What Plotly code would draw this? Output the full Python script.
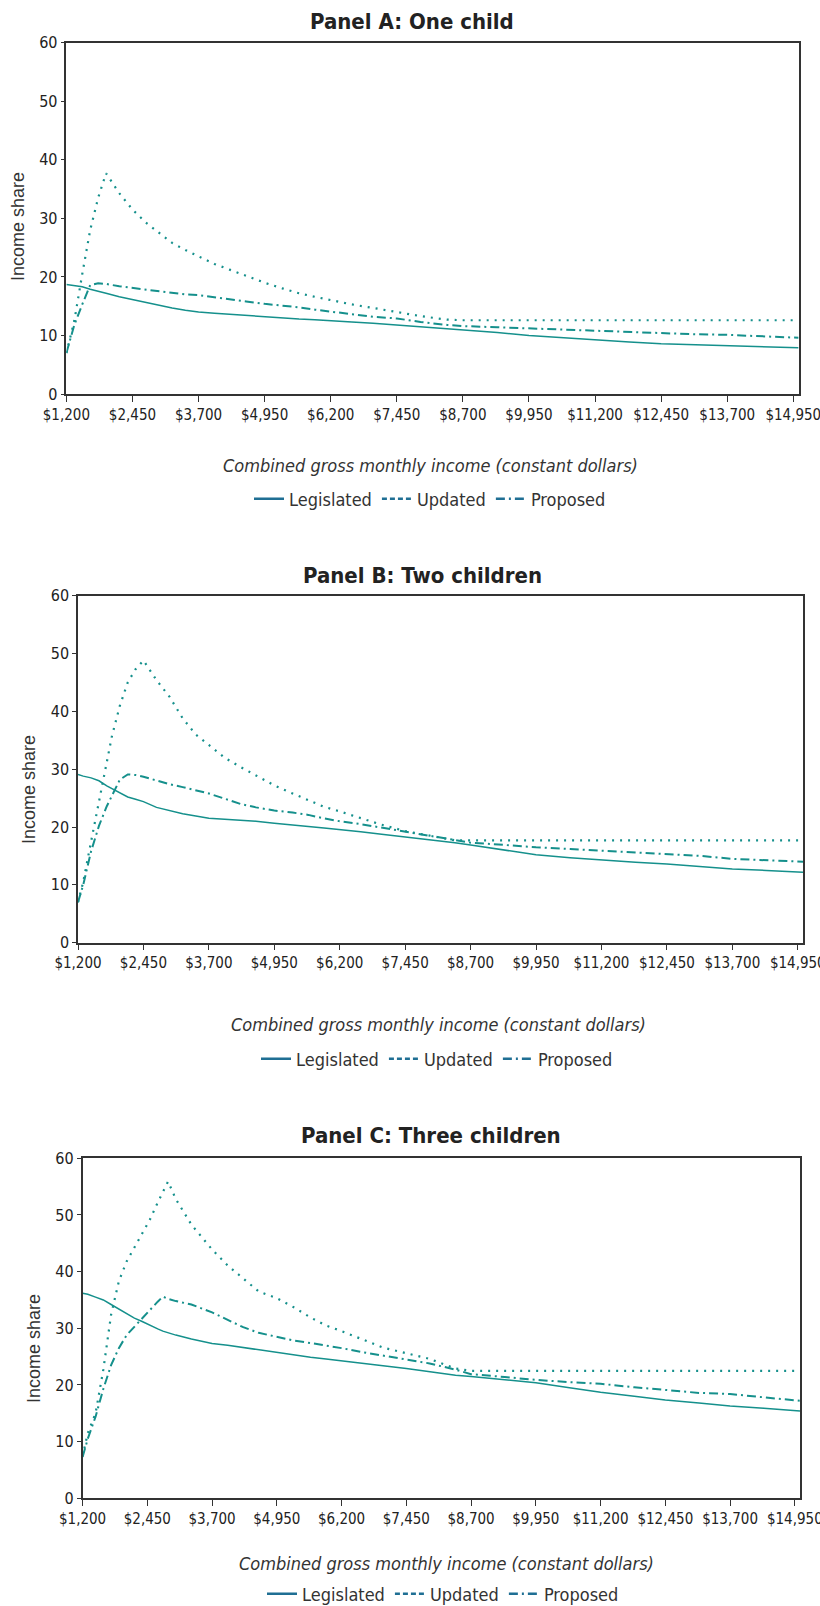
import plotly.graph_objects as go

# ---------------- data ----------------
x_tick_values = [1200, 2450, 3700, 4950, 6200, 7450, 8700, 9950, 11200, 12450, 13700, 14950]
x_tick_labels = ["$1,200", "$2,450", "$3,700", "$4,950", "$6,200", "$7,450", "$8,700",
                 "$9,950", "$11,200", "$12,450", "$13,700", "$14,950"]
y_tick_values = [0, 10, 20, 30, 40, 50, 60]
series_names = ["Legislated", "Updated", "Proposed"]
panel_titles = ["Panel A: One child", "Panel B: Two children", "Panel C: Three children"]
x_title = "Combined gross monthly income (constant dollars)"
y_title = "Income share"

# Panel A: one child
income_a = [1200, 1350, 1500, 1650, 1800, 1950, 2200, 2450, 2700, 2950, 3200, 3450, 3700,
            4000, 4300, 4600, 4950, 5300, 5600, 5900, 6200, 6600, 7000, 7450, 7900, 8400,
            8700, 9350, 9950, 10600, 11200, 11850, 12450, 13100, 13700, 14350, 15050]
legislated_a = [18.7, 18.5, 18.3, 17.9, 17.5, 17.2, 16.6, 16.1, 15.6, 15.2, 14.7, 14.3, 14.0,
                13.8, 13.6, 13.4, 13.2, 13.0, 12.8, 12.7, 12.5, 12.3, 12.1, 11.8, 11.5, 11.2,
                11.05, 10.5, 10.0, 9.6, 9.2, 8.9, 8.6, 8.4, 8.2, 8.0, 7.9]
updated_a = [7.0, 12.5, 20.5, 28.0, 33.5, 37.7, 34.3, 31.5, 29.3, 27.5, 25.8, 24.6, 23.5,
             22.2, 21.2, 20.2, 19.0, 18.0, 17.2, 16.6, 16.0, 15.3, 14.7, 14.0, 13.3, 12.7,
             12.6, 12.6, 12.6, 12.6, 12.6, 12.6, 12.6, 12.6, 12.6, 12.6, 12.6]
proposed_a = [7.0, 11.8, 15.3, 18.6, 18.9, 18.8, 18.4, 18.1, 17.9, 17.6, 17.2, 17.0, 16.9,
              16.5, 16.1, 15.8, 15.4, 15.1, 14.8, 14.4, 14.1, 13.6, 13.2, 12.9, 12.3, 11.8,
              11.6, 11.4, 11.2, 11.0, 10.8, 10.6, 10.4, 10.2, 10.1, 9.8, 9.6]

# Panel B: two children
income_b = [1200, 1300, 1450, 1600, 1750, 1850, 2000, 2150, 2300, 2450, 2700, 2950, 3200,
            3450, 3700, 4000, 4300, 4600, 4950, 5300, 5600, 5900, 6200, 6600, 7000, 7450,
            7900, 8400, 8700, 9350, 9950, 10600, 11200, 11850, 12450, 13100, 13700, 14350, 15050]
legislated_b = [29.1, 28.8, 28.5, 28.0, 27.1, 26.6, 25.9, 25.2, 24.8, 24.4, 23.4, 22.8, 22.3,
                21.9, 21.5, 21.35, 21.2, 21.0, 20.65, 20.3, 20.1, 19.85, 19.6, 19.2, 18.75, 18.3,
                17.9, 17.3, 16.9, 16.0, 15.2, 14.7, 14.3, 13.9, 13.6, 13.2, 12.75, 12.5, 12.2]
updated_b = [7.0, 10.5, 17.5, 24.5, 31.5, 35.8, 41.0, 45.0, 47.3, 48.8, 45.4, 42.5, 38.8,
             36.0, 34.2, 32.0, 30.4, 28.9, 27.2, 25.8, 24.6, 23.5, 22.7, 21.6, 20.4, 19.3,
             18.6, 17.7, 17.7, 17.7, 17.7, 17.7, 17.7, 17.7, 17.7, 17.7, 17.7, 17.7, 17.7]
proposed_b = [7.0, 10.0, 15.8, 20.2, 23.6, 25.5, 28.2, 29.1, 29.0, 28.7, 28.0, 27.4, 26.9,
              26.4, 25.8, 24.9, 24.0, 23.4, 22.85, 22.5, 22.1, 21.5, 21.0, 20.5, 19.9, 19.2,
              18.6, 17.8, 17.3, 16.9, 16.5, 16.2, 15.9, 15.6, 15.3, 15.0, 14.5, 14.3, 14.0]

# Panel C: three children
income_c = [1200, 1300, 1450, 1600, 1750, 1900, 2050, 2200, 2350, 2500, 2650, 2750, 2850,
            3000, 3300, 3700, 4000, 4300, 4600, 4950, 5300, 5600, 5900, 6200, 6600, 7000,
            7450, 7900, 8400, 8700, 9350, 9950, 10600, 11200, 11850, 12450, 13100, 13700,
            14350, 15050]
legislated_c = [36.2, 36.0, 35.5, 35.0, 34.2, 33.4, 32.6, 31.8, 31.2, 30.5, 29.9, 29.5, 29.2,
                28.8, 28.1, 27.3, 27.0, 26.6, 26.2, 25.8, 25.3, 24.9, 24.6, 24.3, 23.9, 23.4,
                22.9, 22.3, 21.7, 21.5, 20.9, 20.4, 19.5, 18.7, 18.0, 17.35, 16.8, 16.3,
                15.9, 15.4]
updated_c = [7.4, 11.5, 15.0, 22.7, 32.4, 38.3, 41.8, 44.2, 46.6, 49.2, 52.2, 54.2, 55.9,
             52.8, 48.3, 43.9, 41.1, 38.8, 36.5, 35.3, 33.6, 31.9, 30.5, 29.5, 28.0, 26.6,
             25.6, 24.6, 22.9, 22.5, 22.5, 22.5, 22.5, 22.5, 22.5, 22.5, 22.5, 22.5,
             22.5, 22.5]
proposed_c = [7.3, 10.5, 14.4, 19.3, 23.5, 26.5, 28.8, 30.3, 31.7, 33.2, 34.7, 35.6, 35.2,
              34.8, 34.2, 32.8, 31.5, 30.2, 29.2, 28.5, 27.8, 27.4, 27.0, 26.5, 25.8, 25.2,
              24.5, 23.8, 22.7, 21.9, 21.4, 20.9, 20.5, 20.2, 19.6, 19.1, 18.6, 18.4,
              17.8, 17.2]

# ---------------- styling ----------------
W, H = 820, 1606
COND = "Liberation Sans Narrow, Arial Narrow, DejaVu Sans Condensed, sans-serif"
REG = "Liberation Sans, Arial, sans-serif"
LINE_COLOR = "#15908c"
LEG_COLOR = "#1f6f94"
TEXT = "#222222"

panels = [
    dict(x=income_a, ys=[legislated_a, updated_a, proposed_a],
         px=(66.4, 798.6), py=(42.7, 394.0), title_xy=(412, 21), xt_xy=(430, 465),
         yt_xy=(18, 227), leg_xy=(430, 499)),
    dict(x=income_b, ys=[legislated_b, updated_b, proposed_b],
         px=(78.0, 803.0), py=(595.7, 942.7), title_xy=(422, 575), xt_xy=(438, 1024),
         yt_xy=(29, 789), leg_xy=(437, 1059)),
    dict(x=income_c, ys=[legislated_c, updated_c, proposed_c],
         px=(82.6, 800.0), py=(1158.3, 1498.3), title_xy=(431, 1135), xt_xy=(446, 1563),
         yt_xy=(34, 1349), leg_xy=(443, 1594)),
]

plot_dash = ["solid", "2px,6px", "9px,4px,2px,4px"]
plot_width = [1.5, 2.2, 2.0]
legend_dash = ["solid", "5px,3px", "9px,4px,2px,4px"]

fig = go.Figure()
annotations = []
layout = dict(width=W, height=H, autosize=False, template="none",
              margin=dict(l=0, r=0, t=0, b=0, pad=0, autoexpand=False),
              paper_bgcolor="white", plot_bgcolor="white", showlegend=True)

for i, p in enumerate(panels):
    n = "" if i == 0 else str(i + 1)
    xa, ya = "x" + n, "y" + n
    leg = "legend" + n
    for k, name in enumerate(series_names):
        fig.add_trace(go.Scatter(
            x=p["x"], y=p["ys"][k], mode="lines", name=name, showlegend=False,
            line=dict(color=LINE_COLOR, width=plot_width[k], dash=plot_dash[k]),
            xaxis=xa, yaxis=ya, hoverinfo="skip"))
    for k, name in enumerate(series_names):
        fig.add_trace(go.Scatter(
            x=[None], y=[None], mode="lines", name=name, legend=leg,
            line=dict(color=LEG_COLOR, width=2.5, dash=legend_dash[k]),
            xaxis=xa, yaxis=ya))

    x0, x1 = p["px"]
    y0, y1 = p["py"]
    layout["xaxis" + n] = dict(
        domain=[x0 / W, x1 / W], anchor=ya, range=[1200, 15050], automargin=False,
        tickmode="array", tickvals=x_tick_values, ticktext=x_tick_labels,
        ticklabeloverflow="allow",
        ticks="outside", ticklen=6, tickwidth=1, tickcolor="#333",
        showline=True, linecolor="#333", linewidth=1.5, mirror=True,
        showgrid=False, zeroline=False,
        tickfont=dict(family=COND, size=15, color=TEXT))
    layout["yaxis" + n] = dict(
        domain=[1 - y1 / H, 1 - y0 / H], anchor=xa, range=[0, 60], automargin=False,
        tickmode="array", tickvals=y_tick_values, ticklabeloverflow="allow",
        ticks="outside", ticklen=4, tickwidth=1, tickcolor="#333",
        showline=True, linecolor="#333", linewidth=1.5, mirror=True,
        showgrid=False, zeroline=False,
        tickfont=dict(family=COND, size=16, color=TEXT))
    lx, ly = p["leg_xy"]
    layout[leg] = dict(orientation="h", x=lx / W, xanchor="center", y=1 - ly / H,
                       yanchor="middle", font=dict(family=COND, size=18, color="#333"),
                       bgcolor="rgba(0,0,0,0)", itemwidth=30, tracegroupgap=0)

    tx, ty = p["title_xy"]
    annotations.append(dict(text="<b>" + panel_titles[i] + "</b>", x=tx / W, y=1 - ty / H,
                            xref="paper", yref="paper", showarrow=False,
                            xanchor="center", yanchor="middle",
                            font=dict(family=COND, size=22, color=TEXT)))
    ax, ay = p["xt_xy"]
    annotations.append(dict(text="<i>" + x_title + "</i>", x=ax / W, y=1 - ay / H,
                            xref="paper", yref="paper", showarrow=False,
                            xanchor="center", yanchor="middle",
                            font=dict(family=COND, size=18, color="#333")))
    yx, yy = p["yt_xy"]
    annotations.append(dict(text=y_title, x=yx / W, y=1 - yy / H, textangle=-90,
                            xref="paper", yref="paper", showarrow=False,
                            xanchor="center", yanchor="middle",
                            font=dict(family=REG, size=18, color="#333")))

layout["annotations"] = annotations
fig.update_layout(**layout)
fig.write_html("out.html", config={"displayModeBar": False},
               post_script="document.body.style.margin='0';"
                           "document.body.style.overflow='hidden';")
